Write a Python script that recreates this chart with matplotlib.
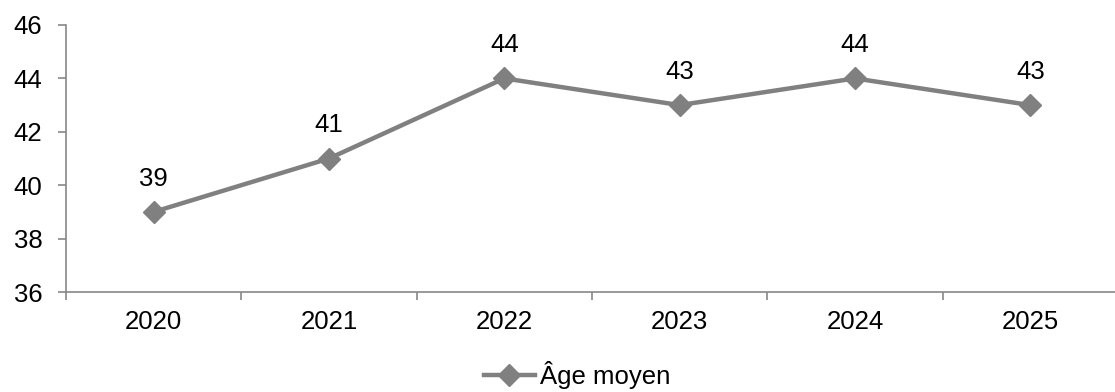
import matplotlib.pyplot as plt
from matplotlib.ticker import FixedLocator

plt.rcParams['font.family'] = ['Liberation Sans', 'DejaVu Sans']

years = ['2020', '2021', '2022', '2023', '2024', '2025']
age_moyen = [39, 41, 44, 43, 44, 43]

fig = plt.figure(figsize=(11.15, 3.92), dpi=100)
ax = fig.add_axes([66 / 1115, 100 / 392, 1052 / 1115, 267 / 392])

x = list(range(len(years)))
line, = ax.plot(x, age_moyen, color='#808080', linewidth=3.2, marker='D',
                markersize=11, label='Âge moyen')

for xi, v in zip(x, age_moyen):
    ax.annotate(str(v), (xi, v), xytext=(0, 19), textcoords='offset points',
                ha='center', va='baseline', fontsize=18.5)

ax.set_xlim(-0.5, len(years) - 0.5)
ax.set_ylim(36, 46)
ax.set_yticks(range(36, 47, 2))
ax.set_xticks(x)
ax.set_xticklabels(years)
ax.xaxis.set_minor_locator(FixedLocator([i - 0.5 for i in range(len(years) + 1)]))
ax.tick_params(axis='x', which='major', length=0, pad=13, labelsize=18.5)
ax.tick_params(axis='x', which='minor', length=6, color='#888888', width=1.2)
ax.tick_params(axis='y', length=6, color='#888888', width=1.2, labelsize=18.5, pad=11)

for s in ['top', 'right']:
    ax.spines[s].set_visible(False)
for s in ['left', 'bottom']:
    ax.spines[s].set_color('#888888')
    ax.spines[s].set_linewidth(1.2)

fig.legend(handles=[line], loc='center', bbox_to_anchor=(577 / 1115, 1 - 375 / 392),
           frameon=False, fontsize=18.5, handlelength=2.0, handletextpad=0.2)

fig.savefig('out.png', dpi=100)
